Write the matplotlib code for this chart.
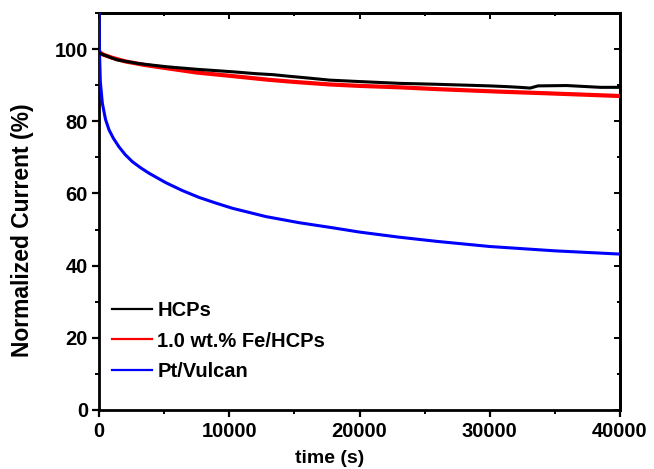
import matplotlib
matplotlib.use("Agg")
import matplotlib.pyplot as plt
from matplotlib.ticker import MultipleLocator

plt.rcParams["font.family"] = ["Liberation Sans", "DejaVu Sans"]
plt.rcParams["font.weight"] = "bold"

# chronoamperometry curves
t_hcp = [0, 500, 1400, 3000, 5200, 7500, 10300, 12000, 13400, 14500, 16000, 17700,
         20000, 23100, 25400, 28200, 30000, 31300, 32300, 33100, 33700, 35900, 38500, 40000]
i_hcp = [98.9, 98.2, 97.0, 96.0, 95.1, 94.4, 93.7, 93.2, 92.9, 92.5, 92.0, 91.4,
         91.0, 90.5, 90.3, 90.0, 89.8, 89.6, 89.4, 89.2, 89.8, 89.9, 89.4, 89.4]

t_fe = [0, 300, 1000, 2000, 3500, 5200, 7500, 10300, 13000, 15000, 17700, 20000,
        23100, 26000, 30800, 34000, 37000, 40000]
i_fe = [99.3, 98.5, 97.6, 96.6, 95.6, 94.7, 93.5, 92.5, 91.5, 90.9, 90.2, 89.8,
        89.4, 88.9, 88.2, 87.8, 87.4, 87.0]

t_pt = [0, 30, 100, 255, 500, 770, 1100, 1535, 2000, 2560, 3200, 3840, 5120, 6400,
        7680, 9000, 10235, 12800, 15355, 17915, 20000, 23000, 26000, 30000, 35000, 40000]
i_pt = [112, 100, 91, 85.0, 80.5, 77.6, 75.3, 72.9, 70.8, 68.8, 67.1, 65.6, 63.0, 60.8,
        58.9, 57.3, 55.9, 53.6, 51.9, 50.5, 49.3, 47.9, 46.7, 45.3, 44.1, 43.2]

labels = ["HCPs", "1.0 wt.% Fe/HCPs", "Pt/Vulcan"]

fig = plt.figure(figsize=(6.54, 4.69), dpi=100)
ax = fig.add_axes([0.1514, 0.1258, 0.7966, 0.8465])

ax.plot(t_hcp, i_hcp, color="black", lw=2.2, label=labels[0], zorder=4)
ax.plot(t_fe, i_fe, color="red", lw=3.0, label=labels[1], zorder=3)
ax.plot(t_pt, i_pt, color="blue", lw=2.2, label=labels[2], zorder=3)

ax.set_xlim(0, 40000)
ax.set_ylim(0, 110)
ax.xaxis.set_major_locator(MultipleLocator(10000))
ax.xaxis.set_minor_locator(MultipleLocator(5000))
ax.yaxis.set_major_locator(MultipleLocator(20))
ax.yaxis.set_minor_locator(MultipleLocator(10))
ax.tick_params(which="major", direction="out", length=5, width=1.6, labelsize=14.5)
ax.tick_params(axis="x", which="major", pad=4)
ax.tick_params(axis="y", which="major", pad=3)
ax.tick_params(which="minor", direction="out", length=3, width=1.4)
for s in ax.spines.values():
    s.set_linewidth(2)

# mirrored inward ticks on top and right
top = ax.secondary_xaxis("top")
top.xaxis.set_major_locator(MultipleLocator(10000))
top.xaxis.set_minor_locator(MultipleLocator(5000))
top.tick_params(which="both", direction="in", labeltop=False, width=1.4)
top.tick_params(which="major", length=4)
top.tick_params(which="minor", length=2.5)
top.spines["top"].set_linewidth(2)
right = ax.secondary_yaxis("right")
right.yaxis.set_major_locator(MultipleLocator(20))
right.yaxis.set_minor_locator(MultipleLocator(10))
right.tick_params(which="both", direction="in", labelright=False, width=1.4)
right.tick_params(which="major", length=4)
right.tick_params(which="minor", length=2.5)
right.spines["right"].set_linewidth(2)

ax.set_xlabel("time (s)", fontsize=14, fontweight="bold", va="center")
ax.xaxis.set_label_coords(0.443, -0.123)
ax.set_ylabel("Normalized Current (%)", fontsize=16.5, fontweight="bold", va="center")
ax.yaxis.set_label_coords(-0.146, 0.453)

leg = ax.legend(loc="upper left", bbox_to_anchor=(0.0244, 0.275), frameon=False,
                fontsize=14.5, handlelength=2.0, handletextpad=0.26, labelspacing=0.58,
                borderpad=0, borderaxespad=0)
for ln in leg.get_lines():
    ln.set_linewidth(1.6)

fig.savefig("out.png", dpi=100)
